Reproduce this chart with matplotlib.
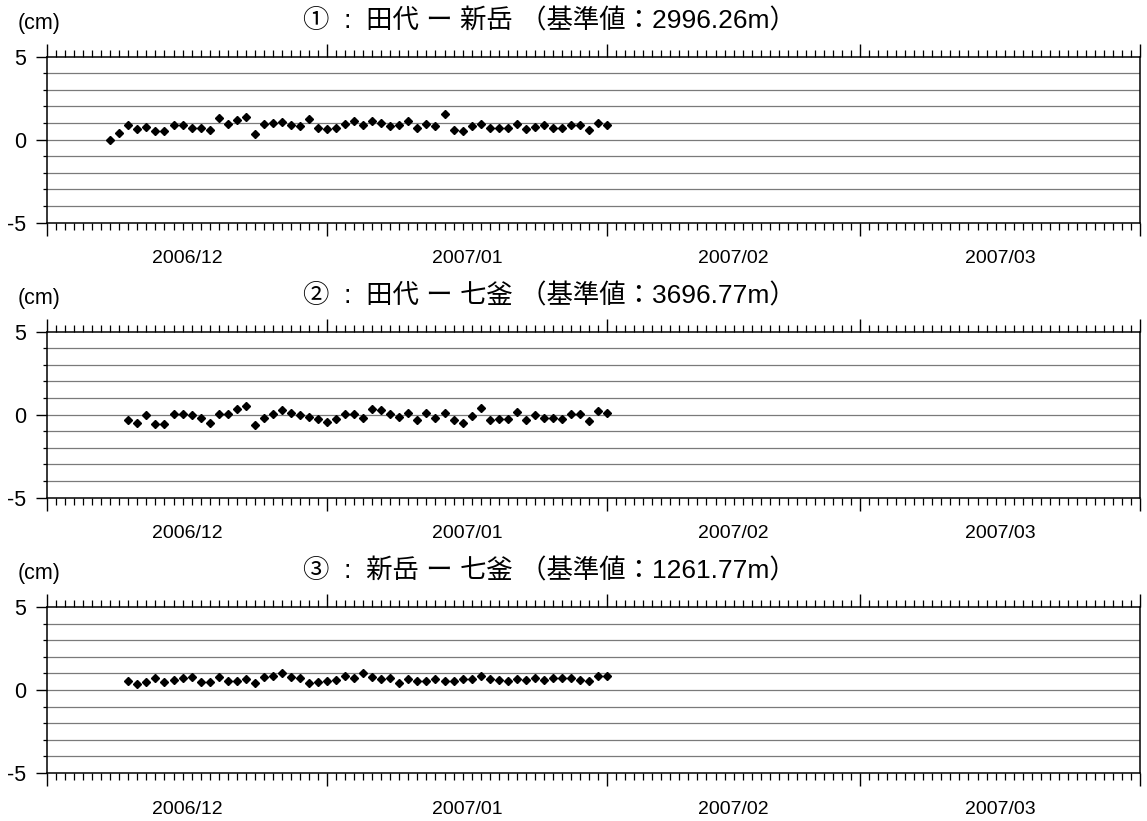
import numpy as np
import pandas as pd
import matplotlib
matplotlib.use('Agg')
import matplotlib.pyplot as plt
import matplotlib.dates as mdates
import matplotlib.transforms as mtransforms

plt.rcParams['font.family'] = ['Liberation Sans', 'Noto Sans CJK JP']

# DATA
titles = ['①  :  田代 ー 新岳 （基準値：2996.26m）',
          '②  :  田代 ー 七釜 （基準値：3696.77m）',
          '③  :  新岳 ー 七釜 （基準値：1261.77m）']

start_dates = ['2006-12-08', '2006-12-10', '2006-12-10']

vals_1 = [0.00, 0.40, 0.88, 0.66, 0.76, 0.54, 0.54, 0.88, 0.88, 0.68,
          0.68, 0.58, 1.28, 0.94, 1.16, 1.38, 0.36, 0.94, 1.02, 1.06,
          0.90, 0.82, 1.24, 0.72, 0.62, 0.70, 0.92, 1.10, 0.86, 1.14,
          1.00, 0.82, 0.86, 1.10, 0.72, 0.96, 0.80, 1.56, 0.60, 0.50,
          0.84, 0.96, 0.72, 0.70, 0.70, 0.96, 0.66, 0.76, 0.88, 0.72,
          0.72, 0.90, 0.90, 0.58, 1.02, 0.90]

vals_2 = [-0.30, -0.52, -0.02, -0.56, -0.54, 0.04, 0.06, -0.02, -0.22, -0.48,
          0.06, 0.04, 0.32, 0.54, -0.64, -0.20, 0.04, 0.26, 0.10, -0.02,
          -0.16, -0.24, -0.42, -0.24, 0.02, 0.02, -0.20, 0.36, 0.26, 0.02,
          -0.16, 0.08, -0.34, 0.08, -0.18, 0.08, -0.34, -0.50, -0.10, 0.42,
          -0.30, -0.28, -0.28, 0.14, -0.30, -0.04, -0.18, -0.18, -0.26, 0.04,
          0.04, -0.36, 0.24, 0.08]

vals_3 = [0.54, 0.36, 0.48, 0.70, 0.50, 0.58, 0.74, 0.80, 0.50, 0.50,
          0.76, 0.56, 0.56, 0.64, 0.42, 0.78, 0.84, 1.02, 0.76, 0.70,
          0.42, 0.46, 0.54, 0.62, 0.84, 0.73, 1.02, 0.80, 0.66, 0.70,
          0.44, 0.64, 0.54, 0.54, 0.64, 0.54, 0.54, 0.66, 0.66, 0.86,
          0.66, 0.60, 0.56, 0.66, 0.62, 0.74, 0.60, 0.70, 0.72, 0.74,
          0.62, 0.56, 0.82, 0.82]

series = [vals_1, vals_2, vals_3]

month_starts = ['2006-12-01', '2007-01-01', '2007-02-01', '2007-03-01', '2007-04-01']
month_labels = ['2006/12', '2007/01', '2007/02', '2007/03']


# PLOTTING FIGURE
fig = plt.figure(figsize=(11.47, 8.21), dpi=100)
bottoms = [0.7288, 0.3938, 0.0585]
height = 0.2022

m_edges = pd.to_datetime(month_starts)
m_num = mdates.date2num(m_edges)
m_mid = (m_num[:-1] + m_num[1:]) / 2

for i in range(3):
    ax = fig.add_axes([0.041, bottoms[i], 0.953, height])
    dates = pd.date_range(start_dates[i], periods=len(series[i]), freq='D')

    for yv in range(-4, 5):
        ax.axhline(yv, color='#7a7a7a', lw=0.9, zorder=1)

    ax.plot(dates, series[i], 'D', color='black', markersize=4.5, zorder=3)

    ax.set_xlim(m_num[0], m_num[-1])
    ax.set_ylim(-5, 5)

    ax.set_xticks(m_num)
    ax.xaxis.set_minor_locator(mdates.DayLocator())
    ax.set_xticklabels([])
    ax.set_yticks([-5, 0, 5])
    ax.set_yticklabels(['-5', '0', '5'], fontsize=15.5)
    ax.set_yticks(np.arange(-5, 6), minor=True)

    ax.tick_params(axis='x', which='major', direction='out', top=True, bottom=True,
                   length=9.5, width=1.0)
    ax.tick_params(axis='x', which='minor', direction='out', top=True, bottom=True,
                   length=4.8, width=0.9)
    ax.tick_params(axis='y', which='major', direction='out', length=8, width=1.0, pad=7)
    ax.tick_params(axis='y', which='minor', direction='out', length=3, width=0.9)

    for sp in ax.spines.values():
        sp.set_linewidth(1.1)

    trans = mtransforms.blended_transform_factory(ax.transData, ax.transAxes)
    for d, lab in zip(m_mid, month_labels):
        ax.annotate(lab, xy=(d, 0), xycoords=trans, xytext=(0, -26),
                    textcoords='offset points', ha='center', va='center', fontsize=14)

    ax.annotate(titles[i], xy=(0.46, 1), xycoords='axes fraction', xytext=(0, 26),
                textcoords='offset points', ha='center', va='center', fontsize=19)
    ax.annotate('(cm)', xy=(0, 1), xycoords='axes fraction', xytext=(-6, 24),
                textcoords='offset points', ha='center', va='center', fontsize=15.5)

plt.savefig('out.png', dpi=100)
